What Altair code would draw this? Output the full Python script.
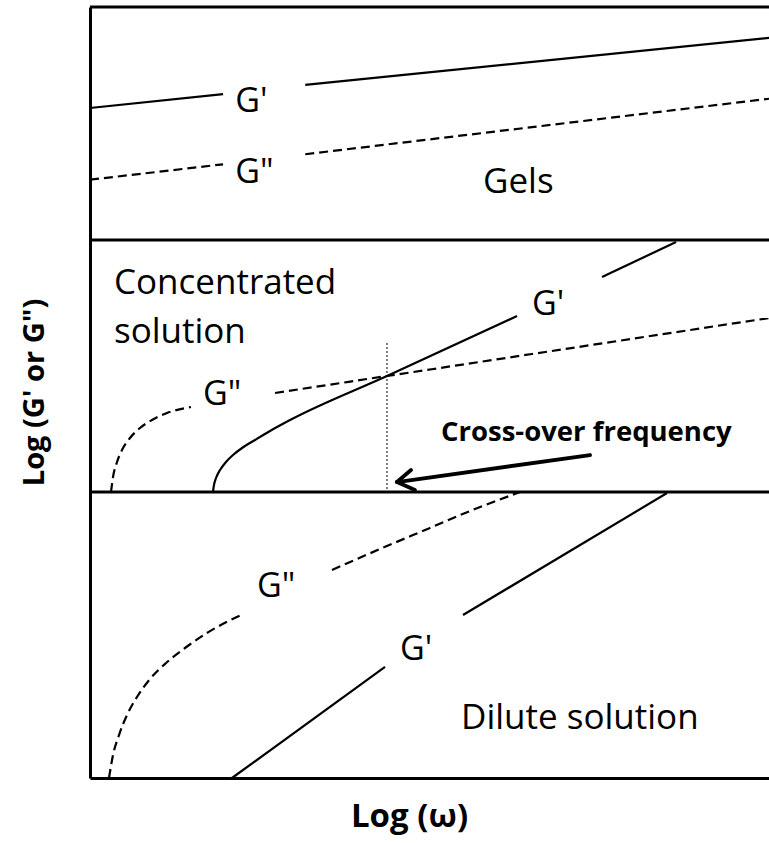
import altair as alt
import pandas as pd

# Frame levels on the log(G) scale: top edge and the two band dividers
band_edges = [10.0, 6.978, 3.709]

# --- Gels band: G' (solid) and G'' (dashed), broken where the labels sit
gel_gp_x = [[0.00, 1.96], [3.17, 10.00]]
gel_gp_y = [[8.69, 8.87], [8.99, 9.60]]
gel_gpp_x = [[0.00, 1.96], [3.17, 10.00]]
gel_gpp_y = [[7.76, 7.96], [8.09, 8.81]]

# --- Concentrated solution band
conc_gp_x = [[1.811, 1.826, 1.856, 1.915, 2.003, 2.106, 2.239, 2.430, 2.651, 2.946, 4.374, 6.289],
             [7.541, 8.631]]
conc_gp_y = [[3.709, 3.800, 3.891, 3.995, 4.099, 4.189, 4.280, 4.384, 4.501, 4.643, 5.214, 5.992],
             [6.498, 6.952]]
conc_gpp_x = [[0.309, 0.339, 0.398, 0.471, 0.589, 0.736, 0.913, 1.134, 1.487],
              [2.725, 4.374, 10.00]]
conc_gpp_y = [[3.709, 3.904, 4.099, 4.254, 4.410, 4.540, 4.643, 4.734, 4.812],
              [4.994, 5.214, 5.966]]

# --- Dilute solution band
dil_gp_x = [[2.091, 4.345], [5.493, 8.498]]
dil_gp_y = [[0.000, 1.440], [2.114, 3.696]]
dil_gpp_x = [[0.280, 0.339, 0.427, 0.545, 0.692, 0.884, 1.120, 1.399, 1.723, 2.253],
             [3.564, 4.271, 5.007, 5.670, 6.333]]
dil_gpp_y = [[0.000, 0.298, 0.557, 0.817, 1.051, 1.284, 1.492, 1.686, 1.881, 2.127],
             [2.698, 2.970, 3.243, 3.489, 3.709]]

# Cross-over of G' and G'' in the concentrated band
crossover_x = 4.374
crossover_y = [5.642, 3.709]

# Arrow pointing at the cross-over frequency: tip, tail and the two barbs
arrow_tip = (4.521, 3.839)
arrow_tail = (7.364, 4.189)
arrow_barbs = [(4.786, 3.735), (4.728, 3.995)]

# Curve labels
curve_label_text = ["G'", 'G"', "G'", 'G"', 'G"', "G'"]
curve_label_x = [2.14, 2.14, 6.51, 1.664, 2.46, 4.566]
curve_label_y = [8.77, 7.85, 6.135, 4.968, 2.477, 1.660]

# Region labels
region_text = ["Gels", "Concentrated", "solution", "Dilute solution"]
region_x = [5.788, 0.353, 0.353, 5.464]
region_y = [7.73, 6.42, 5.785, 0.778]

note_text = ["Cross-over frequency"]
note_x = [5.169]
note_y = [4.475]


def curve_rows(name, xs_list, ys_list, dashed):
    rows = []
    for seg, (xs, ys) in enumerate(zip(xs_list, ys_list)):
        for i, (x, y) in enumerate(zip(xs, ys)):
            rows.append({"curve": f"{name}-{seg}", "x": x, "y": y,
                         "dashed": dashed, "order": i})
    return rows


rows = []
rows += curve_rows("gel_gp", gel_gp_x, gel_gp_y, False)
rows += curve_rows("gel_gpp", gel_gpp_x, gel_gpp_y, True)
rows += curve_rows("conc_gp", conc_gp_x, conc_gp_y, False)
rows += curve_rows("conc_gpp", conc_gpp_x, conc_gpp_y, True)
rows += curve_rows("dil_gp", dil_gp_x, dil_gp_y, False)
rows += curve_rows("dil_gpp", dil_gpp_x, dil_gpp_y, True)
curves = pd.DataFrame(rows)

xs = alt.Scale(domain=[0, 10], nice=False, zero=False)
ys = alt.Scale(domain=[0, 10], nice=False, zero=False)
FONT = "Open Sans"

x_enc = alt.X("x:Q", scale=xs,
              axis=alt.Axis(title="Log (ω)", labels=False, ticks=False, grid=False,
                            domain=True, domainColor="black", domainWidth=3,
                            titleFont=FONT, titleFontSize=33, titleFontWeight="bold",
                            titleColor="black", titleX=319, titleY=38,
                            titleAlign="center", titleBaseline="middle"))
y_enc = alt.Y("y:Q", scale=ys,
              axis=alt.Axis(title="Log (G' or G\")", labels=False, ticks=False, grid=False,
                            domain=True, domainColor="black", domainWidth=3,
                            titleFont=FONT, titleFontSize=29, titleFontWeight="bold",
                            titleColor="black", titleX=-56, titleY=385,
                            titleAlign="center", titleBaseline="middle", titleAngle=270))

solid = alt.Chart(curves).transform_filter("!datum.dashed").mark_line(
    color="black", strokeWidth=2.2, interpolate="monotone"
).encode(x=x_enc, y=y_enc, detail="curve:N", order="order:Q")

dashed = alt.Chart(curves).transform_filter("datum.dashed").mark_line(
    color="black", strokeWidth=2.2, strokeDash=[9, 5], interpolate="monotone"
).encode(x="x:Q", y="y:Q", detail="curve:N", order="order:Q")

edges = alt.Chart(pd.DataFrame({"y": band_edges, "x0": 0.0, "x1": 10.0})).mark_rule(
    color="black", strokeWidth=3
).encode(x="x0:Q", x2="x1:Q", y="y:Q")

cross = alt.Chart(pd.DataFrame({"x": [crossover_x], "y0": [crossover_y[0]],
                                "y1": [crossover_y[1]]})).mark_rule(
    color="black", strokeWidth=1, strokeDash=[2, 2]
).encode(x="x:Q", y="y0:Q", y2="y1:Q")

arrow_df = pd.DataFrame({
    "x0": [arrow_tail[0]] + [arrow_tip[0]] * 2,
    "y0": [arrow_tail[1]] + [arrow_tip[1]] * 2,
    "x1": [arrow_tip[0]] + [b[0] for b in arrow_barbs],
    "y1": [arrow_tip[1]] + [b[1] for b in arrow_barbs],
})
arrow = alt.Chart(arrow_df).mark_rule(color="black", strokeWidth=3.8, strokeCap="round").encode(
    x="x0:Q", y="y0:Q", x2="x1:Q", y2="y1:Q")

labels = alt.Chart(pd.DataFrame({"t": curve_label_text, "x": curve_label_x,
                                 "y": curve_label_y})).mark_text(
    font=FONT, fontSize=34, align="left", baseline="middle", color="black"
).encode(x="x:Q", y="y:Q", text="t:N")

regions = alt.Chart(pd.DataFrame({"t": region_text, "x": region_x, "y": region_y})).mark_text(
    font=FONT, fontSize=35, align="left", baseline="middle", color="black"
).encode(x="x:Q", y="y:Q", text="t:N")

note = alt.Chart(pd.DataFrame({"t": note_text, "x": note_x, "y": note_y})).mark_text(
    font=FONT, fontSize=27.5, fontWeight="bold", align="left", baseline="middle", color="black"
).encode(x="x:Q", y="y:Q", text="t:N")

chart = alt.layer(solid, dashed, edges, cross, arrow, labels, regions, note).properties(
    width=679, height=771,
    padding={"left": 90, "top": 7, "right": 0, "bottom": 65},
    autosize=alt.AutoSizeParams(type="none"),
    background="white",
).configure_view(stroke=None)

chart.save("out.html", embed_options={"renderer": "svg", "actions": False})
